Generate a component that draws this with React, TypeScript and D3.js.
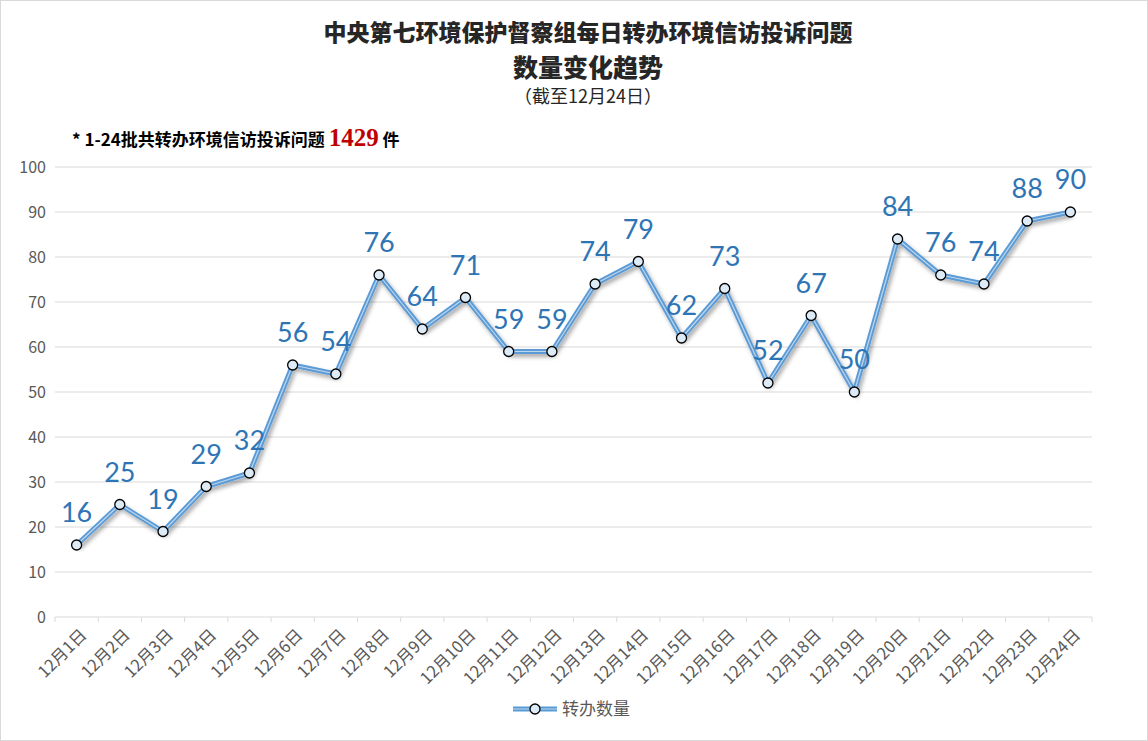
import React, { useEffect } from "react";
import * as d3 from "d3";

const dates = Array.from({ length: 24 }, (_, i) => `12月${i + 1}日`);
const counts = [16, 25, 19, 29, 32, 56, 54, 76, 64, 71, 59, 59, 74, 79, 62, 73, 52, 67, 50, 84, 76, 74, 88, 90];
const yTicks = [0, 10, 20, 30, 40, 50, 60, 70, 80, 90, 100];

const W = 1148;
const H = 741;
const margin = { left: 55, right: 56, top: 167, bottom: 124 };
const font = "'Noto Sans CJK SC', 'Noto Sans', sans-serif";

export default function App() {
	useEffect(() => {
		document.body.style.margin = "0";
	}, []);

	const x = d3.scaleBand<string>().domain(dates).range([margin.left, W - margin.right]);
	const y = d3.scaleLinear().domain([0, 100]).range([H - margin.bottom, margin.top]);
	const cx = (d: string) => (x(d) as number) + x.bandwidth() / 2;

	const line = d3.line<number>()
		.x((d, i) => cx(dates[i]))
		.y(d => y(d));
	const path = line(counts) as string;

	return (
		<svg width={W} height={H} style={{ display: "block", background: "#fff" }}>
			<defs>
				<filter id="shadow" x="-5%" y="-5%" width="110%" height="120%">
					<feDropShadow dx="2" dy="3" stdDeviation="2" floodColor="#000" floodOpacity="0.35" />
				</filter>
			</defs>
			<rect x={0.5} y={0.5} width={W - 1} height={H - 1} fill="#fff" stroke="#d9d9d9" />

			{/* titles */}
			<text x={588} y={41} textAnchor="middle" fontFamily={font} fontWeight={900} fontSize={23} fill="#262626">
				中央第七环境保护督察组每日转办环境信访投诉问题
			</text>
			<text x={588} y={77} textAnchor="middle" fontFamily={font} fontWeight={900} fontSize={25} fill="#262626">
				数量变化趋势
			</text>
			<text x={588} y={103} textAnchor="middle" fontFamily={font} fontSize={18} fill="#262626">
				（截至12月24日）
			</text>
			<text x={72} y={146} fontFamily={font} fontWeight={700} fontSize={17} fill="#000">
				<tspan>*  1-24批共转办环境信访投诉问题 </tspan>
				<tspan fontFamily="'Liberation Serif', serif" fontSize={25} fill="#c00000" fontWeight={700}>1429</tspan>
				<tspan> 件</tspan>
			</text>

			{/* grid + y axis */}
			<g>
				{yTicks.map(t => (
					<g key={t}>
						<line x1={margin.left} x2={W - margin.right} y1={y(t)} y2={y(t)} stroke="#d9d9d9" />
						<text x={46} y={y(t)} dy="0.35em" textAnchor="end" fontFamily={font} fontSize={16} fill="#595959">{t}</text>
					</g>
				))}
			</g>

			{/* x axis ticks + labels */}
			<g>
				{dates.map((d, i) => (
					<line key={"t" + i} x1={x(d) as number} x2={x(d) as number} y1={y(0)} y2={y(0) + 5} stroke="#d9d9d9" />
				))}
				<line x1={W - margin.right} x2={W - margin.right} y1={y(0)} y2={y(0) + 5} stroke="#d9d9d9" />
				{dates.map(d => (
					<text key={d} transform={`translate(${cx(d) + 7},${y(0) + 15})rotate(-45)`} textAnchor="end" dy="0.35em"
						fontFamily={font} fontSize={16.5} fill="#595959">{d}</text>
				))}
			</g>

			{/* series */}
			<g filter="url(#shadow)">
				<path d={path} fill="none" stroke="#5b9bd5" strokeWidth={5} strokeLinejoin="round" />
				<path d={path} fill="none" stroke="#bdd7ee" strokeWidth={1.2} strokeLinejoin="round" />
			</g>
			{counts.map((v, i) => (
				<circle key={i} cx={cx(dates[i])} cy={y(v)} r={5} fill="#ddebf7" stroke="#000" strokeWidth={1.3} />
			))}
			{counts.map((v, i) => (
				<text key={"l" + i} x={cx(dates[i])} y={y(v) - 23} textAnchor="middle" fontFamily="Lato, sans-serif"
					fontSize={27} fill="#2e75b6">{v}</text>
			))}

			{/* legend */}
			<g>
				<line x1={513} x2={557} y1={709} y2={709} stroke="#5b9bd5" strokeWidth={5} />
				<line x1={513} x2={557} y1={709} y2={709} stroke="#bdd7ee" strokeWidth={1.2} />
				<circle cx={535} cy={709} r={5} fill="#ddebf7" stroke="#000" strokeWidth={1.3} />
				<text x={562} y={709} dy="0.35em" fontFamily={font} fontSize={17} fill="#595959">转办数量</text>
			</g>
		</svg>
	);
}
